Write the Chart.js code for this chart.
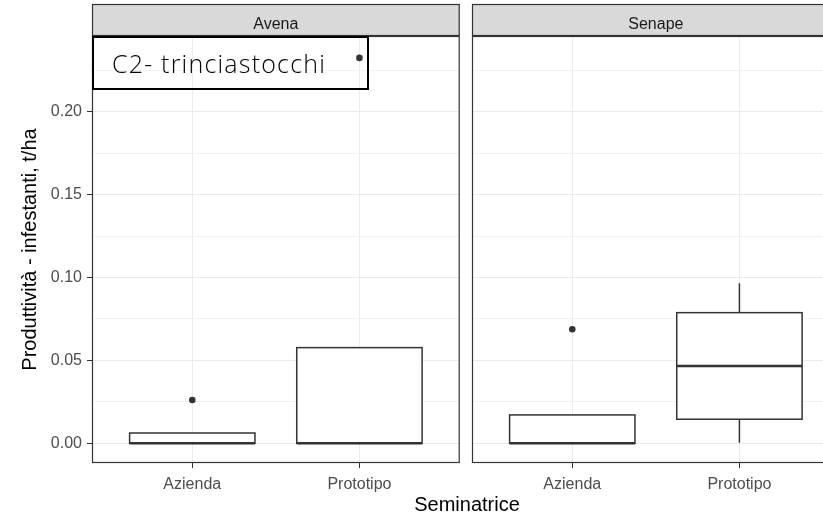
<!DOCTYPE html>
<html>
<head>
<meta charset="utf-8">
<script src="https://cdn.jsdelivr.net/npm/chart.js@4.4.1/dist/chart.umd.min.js"></script>
<style>
  html, body { margin: 0; padding: 0; background: #fff; overflow: hidden; }
  #wrap { position: relative; width: 823px; height: 516px; overflow: hidden; background: #fff; }
  canvas { position: absolute; top: 0; }
  #c1 { left: 0; }
  #c2 { left: 465px; }
  #xtitle {
    position: absolute; left: 0; width: 934px; top: 493px;
    text-align: center; line-height: 20px;
    font: 20px "Liberation Sans", Arial, sans-serif; color: #000;
  }
</style>
</head>
<body>
<div id="wrap">
  <canvas id="c1" width="463" height="516"></canvas>
  <canvas id="c2" width="378" height="516"></canvas>
  <div id="xtitle">Seminatrice</div>
</div>
<script>
// Seed-drill types on the x axis, one panel per cover crop
const categories = ['Azienda', 'Prototipo'];
const facets = ['Avena', 'Senape'];

// Box summaries per category: [lower whisker, Q1, median, Q3, upper whisker] (t/ha)
const avenaStats = [
  [0, 0, 0, 0.0062, 0.0062],
  [0, 0, 0, 0.0577, 0.0577]
];
const senapeStats = [
  [0, 0, 0, 0.0171, 0.0171],
  [0.0003, 0.0145, 0.0466, 0.0788, 0.0965]
];
// Points beyond the whiskers
const avenaOutliers = [[0.0261], [0.2325]];
const senapeOutliers = [[0.0688], []];

// Y axis
const yMajorTicks = [0, 0.05, 0.10, 0.15, 0.20];
const yMinorTicks = [0.025, 0.075, 0.125, 0.175, 0.225];
const yLimits = [-0.0119, 0.2457];
const yTitle = 'Produttività - infestanti, t/ha';
const noteText = 'C2- trinciastocchi';

const FONT = "'Liberation Sans', Arial, sans-serif";
const INK = '#333333';
const GRID = '#EBEBEB';

Chart.defaults.font.family = FONT;

const isMajor = v => yMajorTicks.some(t => Math.abs(t - v) < 1e-9);

// Boxes, whiskers and medians, placed through the chart's scales
const boxPlugin = {
  id: 'boxes',
  afterDatasetsDraw(chart, args, opts) {
    const { ctx } = chart;
    const xs = chart.scales.x, ys = chart.scales.y;
    const half = 0.375;
    opts.stats.forEach((s, i) => {
      const pos = i + 1;
      const cx = xs.getPixelForValue(pos);
      const l = xs.getPixelForValue(pos - half);
      const r = xs.getPixelForValue(pos + half);
      const [lo, q1, md, q3, hi] = s.map(v => ys.getPixelForValue(v));
      ctx.save();
      ctx.strokeStyle = INK;
      ctx.lineWidth = 1.5;
      ctx.beginPath();
      ctx.moveTo(cx, q3); ctx.lineTo(cx, hi);
      ctx.moveTo(cx, q1); ctx.lineTo(cx, lo);
      ctx.stroke();
      ctx.fillStyle = '#fff';
      ctx.fillRect(l, q3, r - l, q1 - q3);
      ctx.strokeRect(l, q3, r - l, q1 - q3);
      ctx.lineWidth = 2.6;
      ctx.beginPath();
      ctx.moveTo(l, md); ctx.lineTo(r, md);
      ctx.stroke();
      ctx.restore();
    });
  }
};

// Facet strip above the panel, the panel frame and the panel note
const panelPlugin = {
  id: 'panel',
  afterDraw(chart, args, opts) {
    const { ctx, chartArea: a } = chart;
    ctx.save();
    ctx.fillStyle = '#D9D9D9';
    ctx.fillRect(a.left, 4, a.right - a.left, a.top - 4);
    ctx.strokeStyle = INK;
    ctx.lineWidth = 1.2;
    ctx.strokeRect(a.left + 0.5, 4.5, a.right - a.left - 1, a.top - 5);
    ctx.strokeRect(a.left + 0.5, a.top + 0.5, a.right - a.left - 1, a.bottom - a.top - 1);
    ctx.fillStyle = '#1A1A1A';
    ctx.font = '16px ' + FONT;
    ctx.textAlign = 'center';
    ctx.textBaseline = 'alphabetic';
    ctx.fillText(opts.label, (a.left + a.right) / 2, 29);
    if (opts.note) {
      ctx.strokeStyle = '#000';
      ctx.lineWidth = 2;
      ctx.strokeRect(a.left + 1, a.top + 1, 275, 52);
      ctx.fillStyle = '#000';
      ctx.font = '300 25px "Open Sans", Lato, sans-serif';
      ctx.letterSpacing = '1.2px';
      ctx.textAlign = 'left';
      ctx.fillText(opts.note, a.left + 20, a.top + 36.5);
    }
    ctx.restore();
  }
};

function makeChart(id, facet, stats, outliers, first) {
  const points = [];
  outliers.forEach((list, i) => list.forEach(v => points.push({ x: i + 1, y: v })));
  return new Chart(document.getElementById(id), {
    type: 'scatter',
    data: {
      datasets: [{
        data: points,
        pointRadius: 3.3,
        pointHoverRadius: 3.3,
        backgroundColor: INK,
        borderWidth: 0
      }]
    },
    options: {
      responsive: false,
      animation: false,
      events: [],
      layout: { padding: { top: 36, right: 1, bottom: 0, left: first ? 0 : 7 } },
      plugins: {
        legend: { display: false },
        tooltip: { enabled: false },
        boxes: { stats },
        panel: { label: facet, note: first ? noteText : null }
      },
      scales: {
        x: {
          type: 'linear',
          min: 0.4,
          max: 2.6,
          afterBuildTicks: s => { s.ticks = categories.map((c, i) => ({ value: i + 1 })); },
          afterFit: s => { s.height = 53; },
          ticks: {
            callback: v => categories[Math.round(v) - 1],
            color: '#4D4D4D',
            font: { size: 16 },
            padding: 7,
            maxRotation: 0,
            autoSkip: false
          },
          grid: { color: GRID, lineWidth: 1, tickLength: 5, tickColor: INK },
          border: { display: false }
        },
        y: {
          type: 'linear',
          min: yLimits[0],
          max: yLimits[1],
          afterBuildTicks: s => {
            s.ticks = yMajorTicks.concat(yMinorTicks).sort((a, b) => a - b).map(v => ({ value: v }));
          },
          afterFit: s => { s.width = first ? 92 : 0; },
          ticks: {
            display: first,
            callback: v => isMajor(v) ? v.toFixed(2) : '',
            color: '#4D4D4D',
            font: { size: 16 },
            padding: 5
          },
          grid: {
            color: ctx => isMajor(ctx.tick.value) ? GRID : '#F2F2F2',
            lineWidth: 1,
            drawTicks: first,
            tickLength: 5,
            tickColor: ctx => isMajor(ctx.tick.value) ? INK : 'rgba(0,0,0,0)'
          },
          border: { display: false },
          title: {
            display: first,
            text: yTitle,
            color: '#000',
            font: { size: 20 },
            padding: { top: 18, bottom: 0 }
          }
        }
      }
    },
    plugins: [boxPlugin, panelPlugin]
  });
}

makeChart('c1', facets[0], avenaStats, avenaOutliers, true);
makeChart('c2', facets[1], senapeStats, senapeOutliers, false);
</script>
</body>
</html>
